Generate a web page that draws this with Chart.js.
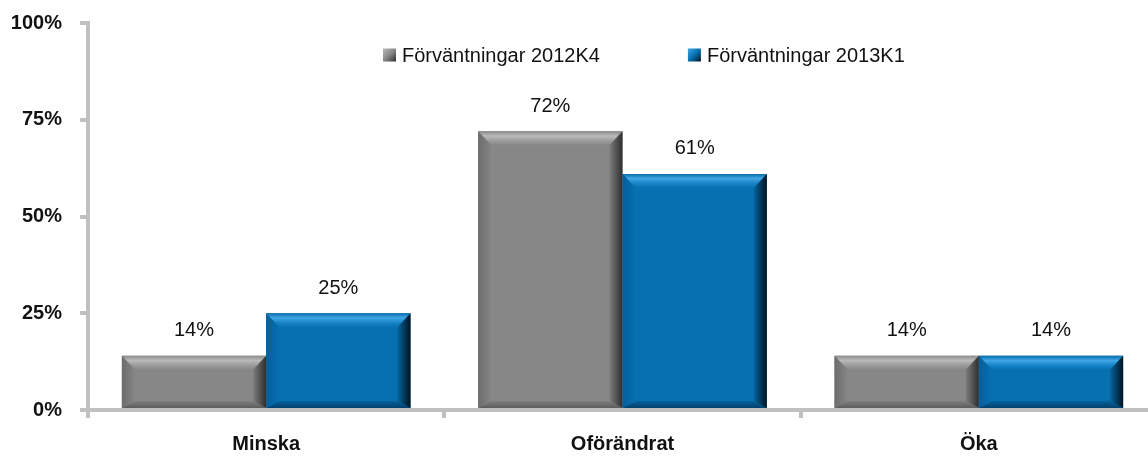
<!DOCTYPE html>
<html>
<head>
<meta charset="utf-8">
<script src="https://cdn.jsdelivr.net/npm/chart.js@4/dist/chart.umd.min.js"></script>
<style>
  html, body { margin: 0; padding: 0; background: #fff; overflow: hidden; }
  /* diagrammet är något bredare än fönstret: x-axeln fortsätter utanför bilden */
  #wrap { width: 1157px; height: 457px; position: relative; }
</style>
</head>
<body>
<div id="wrap"><canvas id="chart"></canvas></div>
<script>
// Förväntningar per kategori, andel svar (%)
const categories = ["Minska", "Oförändrat", "Öka"];
const seriesLabels = ["Förväntningar 2012K4", "Förväntningar 2013K1"];
const values2012K4 = [14, 72, 14];
const values2013K1 = [25, 61, 14];
const yTicks = [0, 25, 50, 75, 100];

const FONT = "'Liberation Sans', Arial, sans-serif";
const AXIS = "#c0c0c0";

// färger för bevel-effekten: yta, topp-ljus, vänster, höger (mörk), botten
const PAL = [
  { face: "#878787", top: ["#8c8c8c", "#bababa", "#9c9c9c", "#878787"], left: ["#6c6c6c", "#858585"],
    right: ["#7c7c7c", "#2e2e2e"], bottom: ["#7e7e7e", "#5c5c5c"] },
  { face: "#0670b0", top: ["#0a6dab", "#40a6e4", "#1885c8", "#0670b0"], left: ["#055e9c", "#0670b0"],
    right: ["#05639f", "#021421"], bottom: ["#066199", "#03416f"] },
];

function grad(ctx, x0, y0, x1, y1, stops) {
  const g = ctx.createLinearGradient(x0, y0, x1, y1);
  stops.forEach((c, i) => g.addColorStop(i / (stops.length - 1), c));
  return g;
}

function poly(ctx, pts, fill) {
  ctx.beginPath();
  ctx.moveTo(pts[0][0], pts[0][1]);
  for (let i = 1; i < pts.length; i++) ctx.lineTo(pts[i][0], pts[i][1]);
  ctx.closePath();
  ctx.fillStyle = fill;
  ctx.fill();
}

// Bevel ovanpå staplarna, utifrån stapelelementens positioner
const bevelPlugin = {
  id: "bevel",
  afterDatasetsDraw(chart) {
    const ctx = chart.ctx;
    chart.data.datasets.forEach((ds, di) => {
      const p = PAL[di];
      chart.getDatasetMeta(di).data.forEach((bar) => {
        const { x, y, base, width } = bar.getProps(["x", "y", "base", "width"], true);
        const l = x - width / 2, r = x + width / 2, t = y, b = base;
        const h = b - t;
        const bt = Math.min(14, h * 0.3), bb = Math.min(7, h * 0.15), bs = 13;
        ctx.save();
        poly(ctx, [[l, t], [r, t], [r - bs, t + bt], [l + bs, t + bt]], grad(ctx, 0, t, 0, t + bt, p.top));
        poly(ctx, [[l, b], [r, b], [r - bs, b - bb], [l + bs, b - bb]], grad(ctx, 0, b - bb, 0, b, p.bottom));
        poly(ctx, [[l, t], [l + bs, t + bt], [l + bs, b - bb], [l, b]], grad(ctx, l, 0, l + bs, 0, p.left));
        poly(ctx, [[r, t], [r - bs, t + bt], [r - bs, b - bb], [r, b]], grad(ctx, r - bs, 0, r, 0, p.right));
        ctx.restore();
      });
    });
  },
};

// Värdeetiketter ovanför staplarna
const valueLabels = {
  id: "valueLabels",
  afterDatasetsDraw(chart) {
    const ctx = chart.ctx;
    ctx.save();
    ctx.font = `20px ${FONT}`;
    ctx.fillStyle = "#111";
    ctx.textAlign = "center";
    ctx.textBaseline = "middle";
    chart.data.datasets.forEach((ds, di) => {
      chart.getDatasetMeta(di).data.forEach((bar, i) => {
        ctx.fillText(ds.data[i] + "%", bar.x, bar.y - 25);
      });
    });
    ctx.restore();
  },
};

// Egen legend inne i diagramytan
const legendInside = {
  id: "legendInside",
  afterDraw(chart) {
    const ctx = chart.ctx;
    const area = chart.chartArea;
    ctx.save();
    ctx.font = `20px ${FONT}`;
    ctx.textBaseline = "middle";
    const box = 13, gap = 6, itemGap = 88;
    const widths = chart.data.datasets.map((ds) => box + gap + ctx.measureText(ds.label).width);
    let xPos = 383;
    const yPos = area.top + 32;
    chart.data.datasets.forEach((ds, di) => {
      const p = PAL[di];
      ctx.fillStyle = grad(ctx, xPos, yPos - box / 2, xPos + box, yPos + box / 2, [p.top[1], p.face, p.right[1]]);
      ctx.fillRect(xPos, yPos - box / 2, box, box);
      ctx.fillStyle = "#111";
      ctx.fillText(ds.label, xPos + box + gap, yPos + 1);
      xPos += widths[di] + itemGap;
    });
    ctx.restore();
  },
};

new Chart(document.getElementById("chart"), {
  type: "bar",
  data: {
    labels: categories,
    datasets: [
      { label: seriesLabels[0], data: values2012K4, backgroundColor: PAL[0].face },
      { label: seriesLabels[1], data: values2013K1, backgroundColor: PAL[1].face },
    ],
  },
  options: {
    responsive: true,
    maintainAspectRatio: false,
    animation: false,
    layout: { padding: { top: 23, right: 0, left: 0, bottom: 0 } },
    datasets: { bar: { categoryPercentage: 0.81, barPercentage: 1.0, borderWidth: 0 } },
    plugins: {
      legend: { display: false },
      tooltip: { enabled: false },
    },
    scales: {
      y: {
        min: 0,
        max: 100,
        afterBuildTicks: (s) => { s.ticks = yTicks.map((v) => ({ value: v })); },
        afterFit: (s) => { s.width = 88; s.paddingTop = 0; s.paddingBottom = 0; },
        ticks: {
          padding: 18,
          color: "#111",
          font: { family: FONT, size: 20, weight: "bold" },
          callback: (v) => v + "%",
        },
        border: { color: AXIS, width: 4 },
        grid: { drawOnChartArea: false, color: AXIS, lineWidth: 4, tickLength: 8 },
      },
      x: {
        afterFit: (s) => { s.height = 47; s.paddingLeft = 0; s.paddingRight = 0; },
        ticks: {
          padding: 14,
          color: "#111",
          font: { family: FONT, size: 20, weight: "bold" },
        },
        border: { color: AXIS, width: 4 },
        grid: { drawOnChartArea: false, color: AXIS, lineWidth: 4, tickLength: 8 },
      },
    },
  },
  plugins: [bevelPlugin, valueLabels, legendInside],
});
</script>
</body>
</html>
